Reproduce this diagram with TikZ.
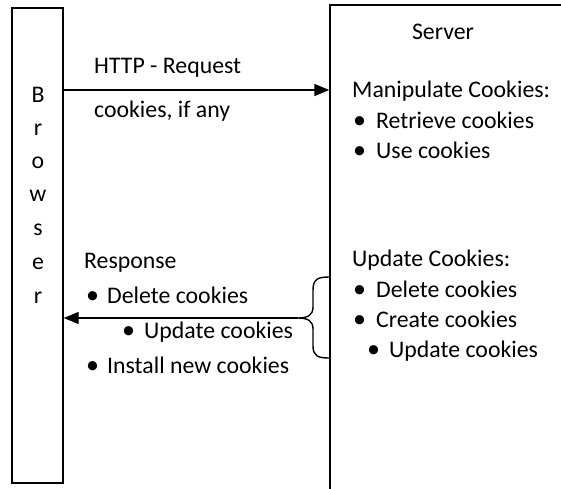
\documentclass[tikz,border=0pt]{standalone}
\usepackage{fontspec}
\setmainfont{Carlito}
\usetikzlibrary{arrows.meta}
\begin{document}
\begin{tikzpicture}[x=1pt,y=-1pt,
  txt/.style={anchor=base west,inner sep=0pt,font=\fontsize{23.8}{28}\selectfont},
  ctxt/.style={anchor=base,inner sep=0pt,font=\fontsize{23.8}{28}\selectfont},
  lane/.style={draw,line width=1.4pt,inner sep=0pt},
  msg/.style={line width=1.4pt,-{Triangle[length=15pt,width=12pt]}},
  bul/.style={anchor=base west,inner sep=0pt,font=\fontsize{26}{28}\selectfont}]
\useasboundingbox (0,0) rectangle (561,488);
\clip (0,0) rectangle (561,488);
\fill[white] (0,0) rectangle (561,488);

% the two parties
\node[lane,minimum width=51pt,minimum height=475pt] (browser) at (37.5,245.5) {};
\node[lane,minimum width=300pt,minimum height=560pt] (server) at (480,285) {};

% browser label, one letter per line
\foreach \ch/\yy [count=\i] in {B/102,r/135,o/168,w/201,s/235,e/269,r/303}
  \node[ctxt] (bl\i) at (38,\yy) {\ch};

% request
\coordinate (rqa) at (browser.east |- 0,90);
\coordinate (rqb) at (server.west |- 0,90);
\draw[msg] (rqa) -- (rqb);
\node[txt] (rq1) at (94,73) {HTTP - Request};
\node[txt] (rq2) at (94,117) {cookies, if any};

% server side
\node[ctxt] (srv) at (443,39) {Server};
\node[txt] (man) at (352,97) {Manipulate Cookies:};
\node[bul] (mb1) at (353,128) {•};
\node[txt] (m1) at (376,128) {Retrieve cookies};
\node[bul] (mb2) at (353,158) {•};
\node[txt] (m2) at (376,158) {Use cookies};

\node[txt] (upd) at (352,266) {Update Cookies:};
\node[bul] (ub1) at (353,297) {•};
\node[txt] (u1) at (376,297) {Delete cookies};
\node[bul] (ub2) at (353,327) {•};
\node[txt] (u2) at (376,327) {Create cookies};
\node[bul] (ub3) at (367,357) {•};
\node[txt] (u3) at (389,357) {Update cookies};

% brace gathering the updates
\coordinate (brtop) at (server.west |- 0,277);
\coordinate (brbot) at (server.west |- 0,358);
\coordinate (brtip) at (298,318);
\draw[line width=1.4pt] (brtop) .. controls (318,277) and (313,279) .. (313,290)
  -- (313,307) .. controls (313,315) and (308,318) .. (brtip)
  .. controls (308,318) and (313,321) .. (313,329)
  -- (313,346) .. controls (313,356) and (318,358) .. (brbot);

% response
\coordinate (rsb) at (browser.east |- brtip);
\draw[msg] (brtip) -- (rsb);
\node[txt] (rsp) at (84,268) {Response};
\node[bul] (rb1) at (86,303) {•};
\node[txt] (r1) at (107,303) {Delete cookies};
\node[bul] (rb2) at (122,338) {•};
\node[txt] (r2) at (144,338) {Update cookies};
\node[bul] (rb3) at (86,373) {•};
\node[txt] (r3) at (107,373) {Install new cookies};
\end{tikzpicture}
\end{document}
